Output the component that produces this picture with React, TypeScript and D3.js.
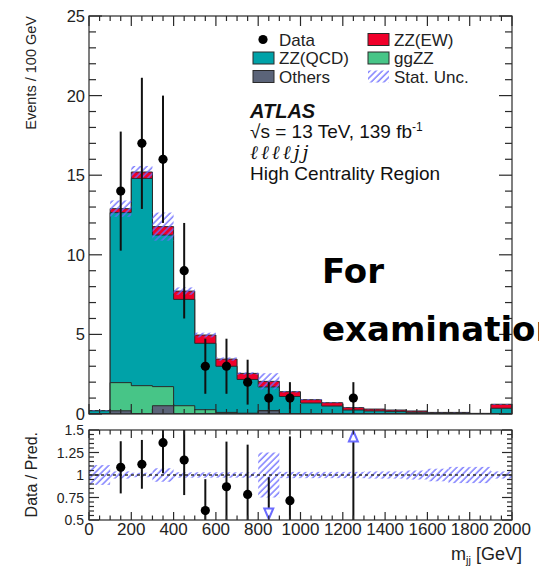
import React, { useEffect, useRef } from 'react';
import * as d3 from 'd3';

// 100 GeV bins, lower edges
const binLow = [0, 100, 200, 300, 400, 500, 600, 700, 800, 900, 1000, 1100, 1200, 1300, 1400, 1500, 1600, 1700, 1800, 1900];
const binWidth = 100;

// stacked predictions (events / 100 GeV), bottom to top
const others = [0, 0.2, 0.03, 0.52, 0, 0, 0, 0, 0.2, 0, 0, 0, 0, 0, 0, 0, 0, 0, 0, 0];
const ggZZ = [0, 1.77, 1.75, 1.2, 0.52, 0.27, 0.1, 0.05, 0.02, 0.02, 0.02, 0.01, 0, 0, 0, 0, 0, 0, 0, 0];
const zzQCD = [0.2, 10.68, 13.02, 9.52, 6.68, 4.17, 2.9, 2.12, 1.48, 1.08, 0.67, 0.49, 0.25, 0.19, 0.15, 0.11, 0.06, 0.07, 0.03, 0.36];
const zzEW = [0.01, 0.25, 0.4, 0.53, 0.52, 0.52, 0.45, 0.38, 0.35, 0.3, 0.21, 0.21, 0.15, 0.12, 0.1, 0.08, 0.04, 0.03, 0.01, 0.25];
// relative stat. uncertainty of the prediction
const statUnc = [0.11, 0.04, 0.025, 0.075, 0.03, 0.03, 0.03, 0.03, 0.25, 0.035, 0.035, 0.035, 0.035, 0.04, 0.04, 0.05, 0.07, 0.09, 0.09, 0.04];

// data
const dataCounts = [0, 14, 17, 16, 9, 3, 3, 2, 1, 1, 0, 0, 1, 0, 0, 0, 0, 0, 0, 0];
const dataErr = [0, 3.74, 4.12, 4, 3, 1.73, 1.73, 1.41, 1, 1, 0, 0, 1, 0, 0, 0, 0, 0, 0, 0];

// axis labels
const yTickLabels = [0, 5, 10, 15, 20, 25];
const ratioTickLabels = ['0.5', '0.75', '1', '1.25', '1.5'];
const xTickLabels = [0, 200, 400, 600, 800, 1000, 1200, 1400, 1600, 1800, 2000];

const colors = {
  ew: '#f0002a',
  qcd: '#00a2a8',
  gg: '#47c587',
  oth: '#5b6479',
  hatch: '#6b6bff',
  line: '#2a2a2a',
};

const FONT = '"Liberation Sans", Arial, sans-serif';

const App = () => {
  const svgRef = useRef<SVGSVGElement>(null);

  useEffect(() => {
    document.body.style.margin = '0';
    const svg = d3.select(svgRef.current);
    svg.selectAll('*').remove();

    const x = d3.scaleLinear().domain([0, 2000]).range([89, 512]);
    const y = d3.scaleLinear().domain([0, 25]).range([414, 16]);
    const yr = d3.scaleLinear().domain([0.5, 1.5]).range([520, 430]);

    const defs = svg.append('defs');
    const pat = defs
      .append('pattern')
      .attr('id', 'hatch')
      .attr('patternUnits', 'userSpaceOnUse')
      .attr('width', 4.5)
      .attr('height', 4.5)
      .attr('patternTransform', 'rotate(45)');
    pat.append('line').attr('x1', 1).attr('y1', 0).attr('x2', 1).attr('y2', 4.5)
      .attr('stroke', colors.hatch).attr('stroke-width', 1.3);

    defs.append('clipPath').attr('id', 'clipMain').append('rect')
      .attr('x', 89).attr('y', 16).attr('width', 423).attr('height', 398);
    defs.append('clipPath').attr('id', 'clipRatio').append('rect')
      .attr('x', 89).attr('y', 430).attr('width', 423).attr('height', 90);

    // ---------- main panel ----------
    const c1 = others.map((d) => d);
    const c2 = c1.map((d, i) => d + ggZZ[i]);
    const c3 = c2.map((d, i) => d + zzQCD[i]);
    const c4 = c3.map((d, i) => d + zzEW[i]);

    const stepPath = (vals: number[]) => {
      const p = d3.path();
      p.moveTo(x(binLow[0]), y(0));
      vals.forEach((v, i) => {
        p.lineTo(x(binLow[i]), y(v));
        p.lineTo(x(binLow[i] + binWidth), y(v));
      });
      p.lineTo(x(binLow[binLow.length - 1] + binWidth), y(0));
      p.closePath();
      return p.toString();
    };

    const main = svg.append('g').attr('clip-path', 'url(#clipMain)');
    [
      [c4, colors.ew],
      [c3, colors.qcd],
      [c2, colors.gg],
      [c1, colors.oth],
    ].forEach(([vals, col]) => {
      main.append('path')
        .attr('d', stepPath(vals as number[]))
        .attr('fill', col as string)
        .attr('stroke', colors.line)
        .attr('stroke-width', 1);
    });

    // stat. unc. hatched band
    main.selectAll('rect.unc')
      .data(binLow)
      .enter()
      .append('rect')
      .attr('x', (d) => x(d))
      .attr('width', x(binWidth) - x(0))
      .attr('y', (d, i) => y(c4[i] * (1 + statUnc[i])))
      .attr('height', (d, i) => y(c4[i] * (1 - statUnc[i])) - y(c4[i] * (1 + statUnc[i])))
      .attr('fill', 'url(#hatch)');

    // data
    const pts = binLow.map((d, i) => ({ xc: d + binWidth / 2, n: dataCounts[i], e: dataErr[i], tot: c4[i] }))
      .filter((d) => d.n > 0);
    main.selectAll('line.err')
      .data(pts)
      .enter()
      .append('line')
      .attr('x1', (d) => x(d.xc))
      .attr('x2', (d) => x(d.xc))
      .attr('y1', (d) => y(d.n + d.e))
      .attr('y2', (d) => y(Math.max(0, d.n - d.e)))
      .attr('stroke', '#111')
      .attr('stroke-width', 2);
    main.selectAll('circle.pt')
      .data(pts)
      .enter()
      .append('circle')
      .attr('cx', (d) => x(d.xc))
      .attr('cy', (d) => y(d.n))
      .attr('r', 4.6)
      .attr('fill', '#000');

    // frame + ticks
    const axes = svg.append('g').attr('stroke', colors.line).attr('stroke-width', 1.2);
    axes.append('rect').attr('x', 89).attr('y', 16).attr('width', 423).attr('height', 398).attr('fill', 'none');
    d3.range(0, 26, 1).forEach((v) => {
      const len = v % 5 === 0 ? 13 : 7;
      axes.append('line').attr('x1', 89).attr('x2', 89 + len).attr('y1', y(v)).attr('y2', y(v));
      axes.append('line').attr('x1', 512).attr('x2', 512 - len).attr('y1', y(v)).attr('y2', y(v));
    });
    d3.range(0, 2001, 50).forEach((g) => {
      const len = g % 200 === 0 ? 10 : 5;
      axes.append('line').attr('x1', x(g)).attr('x2', x(g)).attr('y1', 16).attr('y2', 16 + len);
      axes.append('line').attr('x1', x(g)).attr('x2', x(g)).attr('y1', 414).attr('y2', 414 - len);
    });

    svg.selectAll('text.ylab')
      .data(yTickLabels)
      .enter()
      .append('text')
      .attr('x', 85)
      .attr('y', (d) => y(d) + 6)
      .attr('text-anchor', 'end')
      .attr('font-family', FONT)
      .attr('font-size', 16.5)
      .attr('fill', '#222')
      .text((d) => d);

    svg.append('text')
      .attr('transform', 'translate(36,16) rotate(-90)')
      .attr('text-anchor', 'end')
      .attr('font-family', FONT)
      .attr('font-size', 14.5)
      .attr('fill', '#222')
      .text('Events / 100 GeV');

    // ---------- ratio panel ----------
    const ratio = svg.append('g').attr('clip-path', 'url(#clipRatio)');
    ratio.selectAll('rect.runc')
      .data(binLow)
      .enter()
      .append('rect')
      .attr('x', (d) => x(d))
      .attr('width', x(binWidth) - x(0))
      .attr('y', (d, i) => yr(1 + statUnc[i]))
      .attr('height', (d, i) => yr(1 - statUnc[i]) - yr(1 + statUnc[i]))
      .attr('fill', 'url(#hatch)');
    ratio.append('line')
      .attr('x1', 89).attr('x2', 512).attr('y1', yr(1)).attr('y2', yr(1))
      .attr('stroke', '#333').attr('stroke-width', 1.5).attr('stroke-dasharray', '3,3');

    pts.forEach((d) => {
      const r = d.n / d.tot;
      const hi = (d.n + d.e) / d.tot;
      const lo = Math.max(0, d.n - d.e) / d.tot;
      const cx = x(d.xc);
      if (r < 0.5) {
        ratio.append('line').attr('x1', cx).attr('x2', cx)
          .attr('y1', yr(Math.min(hi, 1.5))).attr('y2', 508)
          .attr('stroke', '#111').attr('stroke-width', 2);
        ratio.append('path')
          .attr('d', `M${cx - 4.5},508.5 L${cx + 4.5},508.5 L${cx},519 Z`)
          .attr('fill', '#fff').attr('stroke', colors.hatch).attr('stroke-width', 2);
      } else if (r > 1.5) {
        ratio.append('line').attr('x1', cx).attr('x2', cx)
          .attr('y1', yr(Math.max(lo, 0.5))).attr('y2', 442)
          .attr('stroke', '#111').attr('stroke-width', 2);
        ratio.append('path')
          .attr('d', `M${cx - 4.5},441.5 L${cx + 4.5},441.5 L${cx},431 Z`)
          .attr('fill', '#fff').attr('stroke', colors.hatch).attr('stroke-width', 2);
      } else {
        ratio.append('line').attr('x1', cx).attr('x2', cx)
          .attr('y1', yr(hi)).attr('y2', yr(lo))
          .attr('stroke', '#111').attr('stroke-width', 2);
        ratio.append('circle').attr('cx', cx).attr('cy', yr(r)).attr('r', 4.6).attr('fill', '#000');
      }
    });

    const raxes = svg.append('g').attr('stroke', colors.line).attr('stroke-width', 1.2);
    raxes.append('rect').attr('x', 89).attr('y', 430).attr('width', 423).attr('height', 90).attr('fill', 'none');
    d3.range(0, 21, 1).forEach((k) => {
      const v = 0.5 + k * 0.05;
      const len = k % 5 === 0 ? 10 : 5;
      raxes.append('line').attr('x1', 89).attr('x2', 89 + len).attr('y1', yr(v)).attr('y2', yr(v));
      raxes.append('line').attr('x1', 512).attr('x2', 512 - len).attr('y1', yr(v)).attr('y2', yr(v));
    });
    d3.range(0, 2001, 50).forEach((g) => {
      const len = g % 200 === 0 ? 8 : 4.5;
      raxes.append('line').attr('x1', x(g)).attr('x2', x(g)).attr('y1', 430).attr('y2', 430 + len);
      raxes.append('line').attr('x1', x(g)).attr('x2', x(g)).attr('y1', 520).attr('y2', 520 - len);
    });

    svg.selectAll('text.rlab')
      .data(ratioTickLabels)
      .enter()
      .append('text')
      .attr('x', 84)
      .attr('y', (d) => yr(+d) + 5)
      .attr('text-anchor', 'end')
      .attr('font-family', FONT)
      .attr('font-size', 14)
      .attr('fill', '#222')
      .text((d) => d);

    svg.append('text')
      .attr('transform', 'translate(37,432) rotate(-90)')
      .attr('text-anchor', 'end')
      .attr('font-family', FONT)
      .attr('font-size', 16)
      .attr('fill', '#222')
      .text('Data / Pred.');

    svg.selectAll('text.xlab')
      .data(xTickLabels)
      .enter()
      .append('text')
      .attr('x', (d) => x(d))
      .attr('y', 535)
      .attr('text-anchor', 'middle')
      .attr('font-family', FONT)
      .attr('font-size', 17)
      .attr('fill', '#222')
      .text((d) => d);

    const xt = svg.append('text')
      .attr('x', 522)
      .attr('y', 560)
      .attr('text-anchor', 'end')
      .attr('font-family', FONT)
      .attr('font-size', 18)
      .attr('fill', '#222');
    xt.append('tspan').text('m');
    xt.append('tspan').attr('font-size', 11).attr('dy', 4).text('jj');
    xt.append('tspan').attr('dy', -4).text(' [GeV]');

    // ---------- legend ----------
    const leg = svg.append('g').attr('font-family', FONT).attr('font-size', 17).attr('fill', '#222');
    const rows = [39.5, 58, 76.5];
    const entries = [
      { col: 0, row: 0, label: 'Data', kind: 'dot', fill: '#000' },
      { col: 1, row: 0, label: 'ZZ(EW)', kind: 'box', fill: colors.ew },
      { col: 0, row: 1, label: 'ZZ(QCD)', kind: 'box', fill: colors.qcd },
      { col: 1, row: 1, label: 'ggZZ', kind: 'box', fill: colors.gg },
      { col: 0, row: 2, label: 'Others', kind: 'box', fill: colors.oth },
      { col: 1, row: 2, label: 'Stat. Unc.', kind: 'hatch', fill: 'url(#hatch)' },
    ];
    entries.forEach((e) => {
      const bx = e.col === 0 ? 253 : 368;
      const ty = rows[e.row];
      if (e.kind === 'dot') {
        leg.append('circle').attr('cx', bx + 10).attr('cy', ty).attr('r', 4.6).attr('fill', '#000');
      } else {
        leg.append('rect')
          .attr('x', bx).attr('y', ty - 6).attr('width', 21).attr('height', 12)
          .attr('fill', e.fill)
          .attr('stroke', e.kind === 'box' ? colors.line : 'none')
          .attr('stroke-width', 1);
      }
      leg.append('text')
        .attr('x', bx + 26)
        .attr('y', ty + 6)
        .text(e.label);
    });

    // ---------- ATLAS label ----------
    const lab = svg.append('g').attr('font-family', FONT).attr('fill', '#111');
    lab.append('text').attr('x', 250).attr('y', 118)
      .attr('font-size', 20).attr('font-weight', 'bold').attr('font-style', 'italic')
      .text('ATLAS');
    const sq = lab.append('text').attr('x', 250).attr('y', 138).attr('font-size', 19);
    sq.append('tspan').text('√s = 13 TeV, 139 fb');
    sq.append('tspan').attr('font-size', 12).attr('dy', -7).text('-1');
    lab.append('text').attr('x', 250).attr('y', 159)
      .attr('font-size', 19).attr('font-style', 'italic')
      .attr('letter-spacing', 3)
      .attr('font-family', '"DejaVu Serif", serif')
      .text('ℓℓℓℓjj');
    lab.append('text').attr('x', 250).attr('y', 180).attr('font-size', 19)
      .text('High Centrality Region');

    // ---------- overlay note ----------
    const note = svg.append('g')
      .attr('font-family', '"DejaVu Sans", sans-serif')
      .attr('font-weight', 'bold')
      .attr('font-size', 34)
      .attr('fill', '#000');
    note.append('text').attr('x', 322).attr('y', 283).text('For');
    note.append('text').attr('x', 322).attr('y', 341).text('examination');
  }, []);

  return <svg ref={svgRef} width={539} height={570} style={{ display: 'block', background: '#fff' }} />;
};

export default App;
